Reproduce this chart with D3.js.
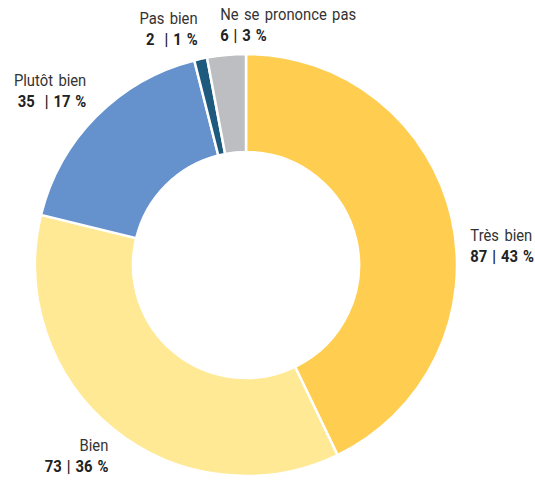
<!DOCTYPE html>
<html>
<head>
<meta charset="utf-8">
<script src="https://cdn.jsdelivr.net/npm/d3@7"></script>
</head>
<body style="margin:0;background:#fff">
<script>
  const categories = ["Très bien", "Bien", "Plutôt bien", "Pas bien", "Ne se prononce pas"];
  const counts = [87, 73, 35, 2, 6];
  const percents = [43, 36, 17, 1, 3];
  const colors = ["#FFCD50", "#FFE994", "#6591CC", "#1E5A7E", "#BDBEC2"];

  const width = 535, height = 482;
  const cx = 246, cy = 265;
  const outerR = 211, innerR = 113;

  var svg = d3.select("body").append("svg")
    .attr("width", width)
    .attr("height", height)
    .style("font-family", "Roboto, sans-serif");

  var g = svg.append("g").attr("transform", "translate(" + cx + "," + cy + ")");

  var pie = d3.pie().sort(null).value(function(d) { return d; });
  var arcs = pie(counts);

  var arc = d3.arc().innerRadius(innerR).outerRadius(outerR);

  g.selectAll("path")
    .data(arcs)
    .enter()
    .append("path")
    .attr("d", arc)
    .attr("fill", function(d, i) { return colors[i]; })
    .attr("stroke", "#fff")
    .attr("stroke-width", 2.5);

  // labels: anchor point just outside the ring, text hangs away from it
  // (scaleX squeezes Roboto to look like the condensed face of the original)
  var labelR = 225;
  var labels = g.selectAll("text.lbl")
    .data(arcs)
    .enter()
    .append("text")
    .attr("class", "lbl")
    .attr("font-size", "17px")
    .attr("fill", "#333")
    .attr("text-anchor", function(d, i) {
      var a = (d.startAngle + d.endAngle) / 2;
      return (Math.sin(a) >= 0 || i == 4) ? "start" : "end";
    })
    .attr("transform", function(d, i) {
      var a = (d.startAngle + d.endAngle) / 2;
      var x = Math.sin(a) * labelR, y = -Math.cos(a) * labelR;
      var dy;
      if (i == 0) { x += 5; dy = 26; }                  // right side
      else if (Math.cos(a) > 0) dy = -21;               // top half: text above point
      else { x += 4; dy = 11; }                         // bottom half: text below point
      if (i == 4) x -= 5;
      return "translate(" + x + "," + (y + dy) + ") scale(0.87,1)";
    });

  labels.append("tspan")
    .attr("x", 0)
    .attr("dy", 0)
    .style("word-spacing", "2px")
    .text(function(d, i) { return categories[i]; });

  labels.append("tspan")
    .attr("x", 0)
    .attr("dy", 21)
    .attr("font-weight", "bold")
    .attr("fill", "#222")
    .style("white-space", "pre")
    .style("word-spacing", "1.5px")
    .text(function(d, i) {
      var sep = (i == 2 || i == 3) ? "  | " : " | ";
      return counts[i] + sep + percents[i] + " %";
    });
</script>
</body>
</html>
